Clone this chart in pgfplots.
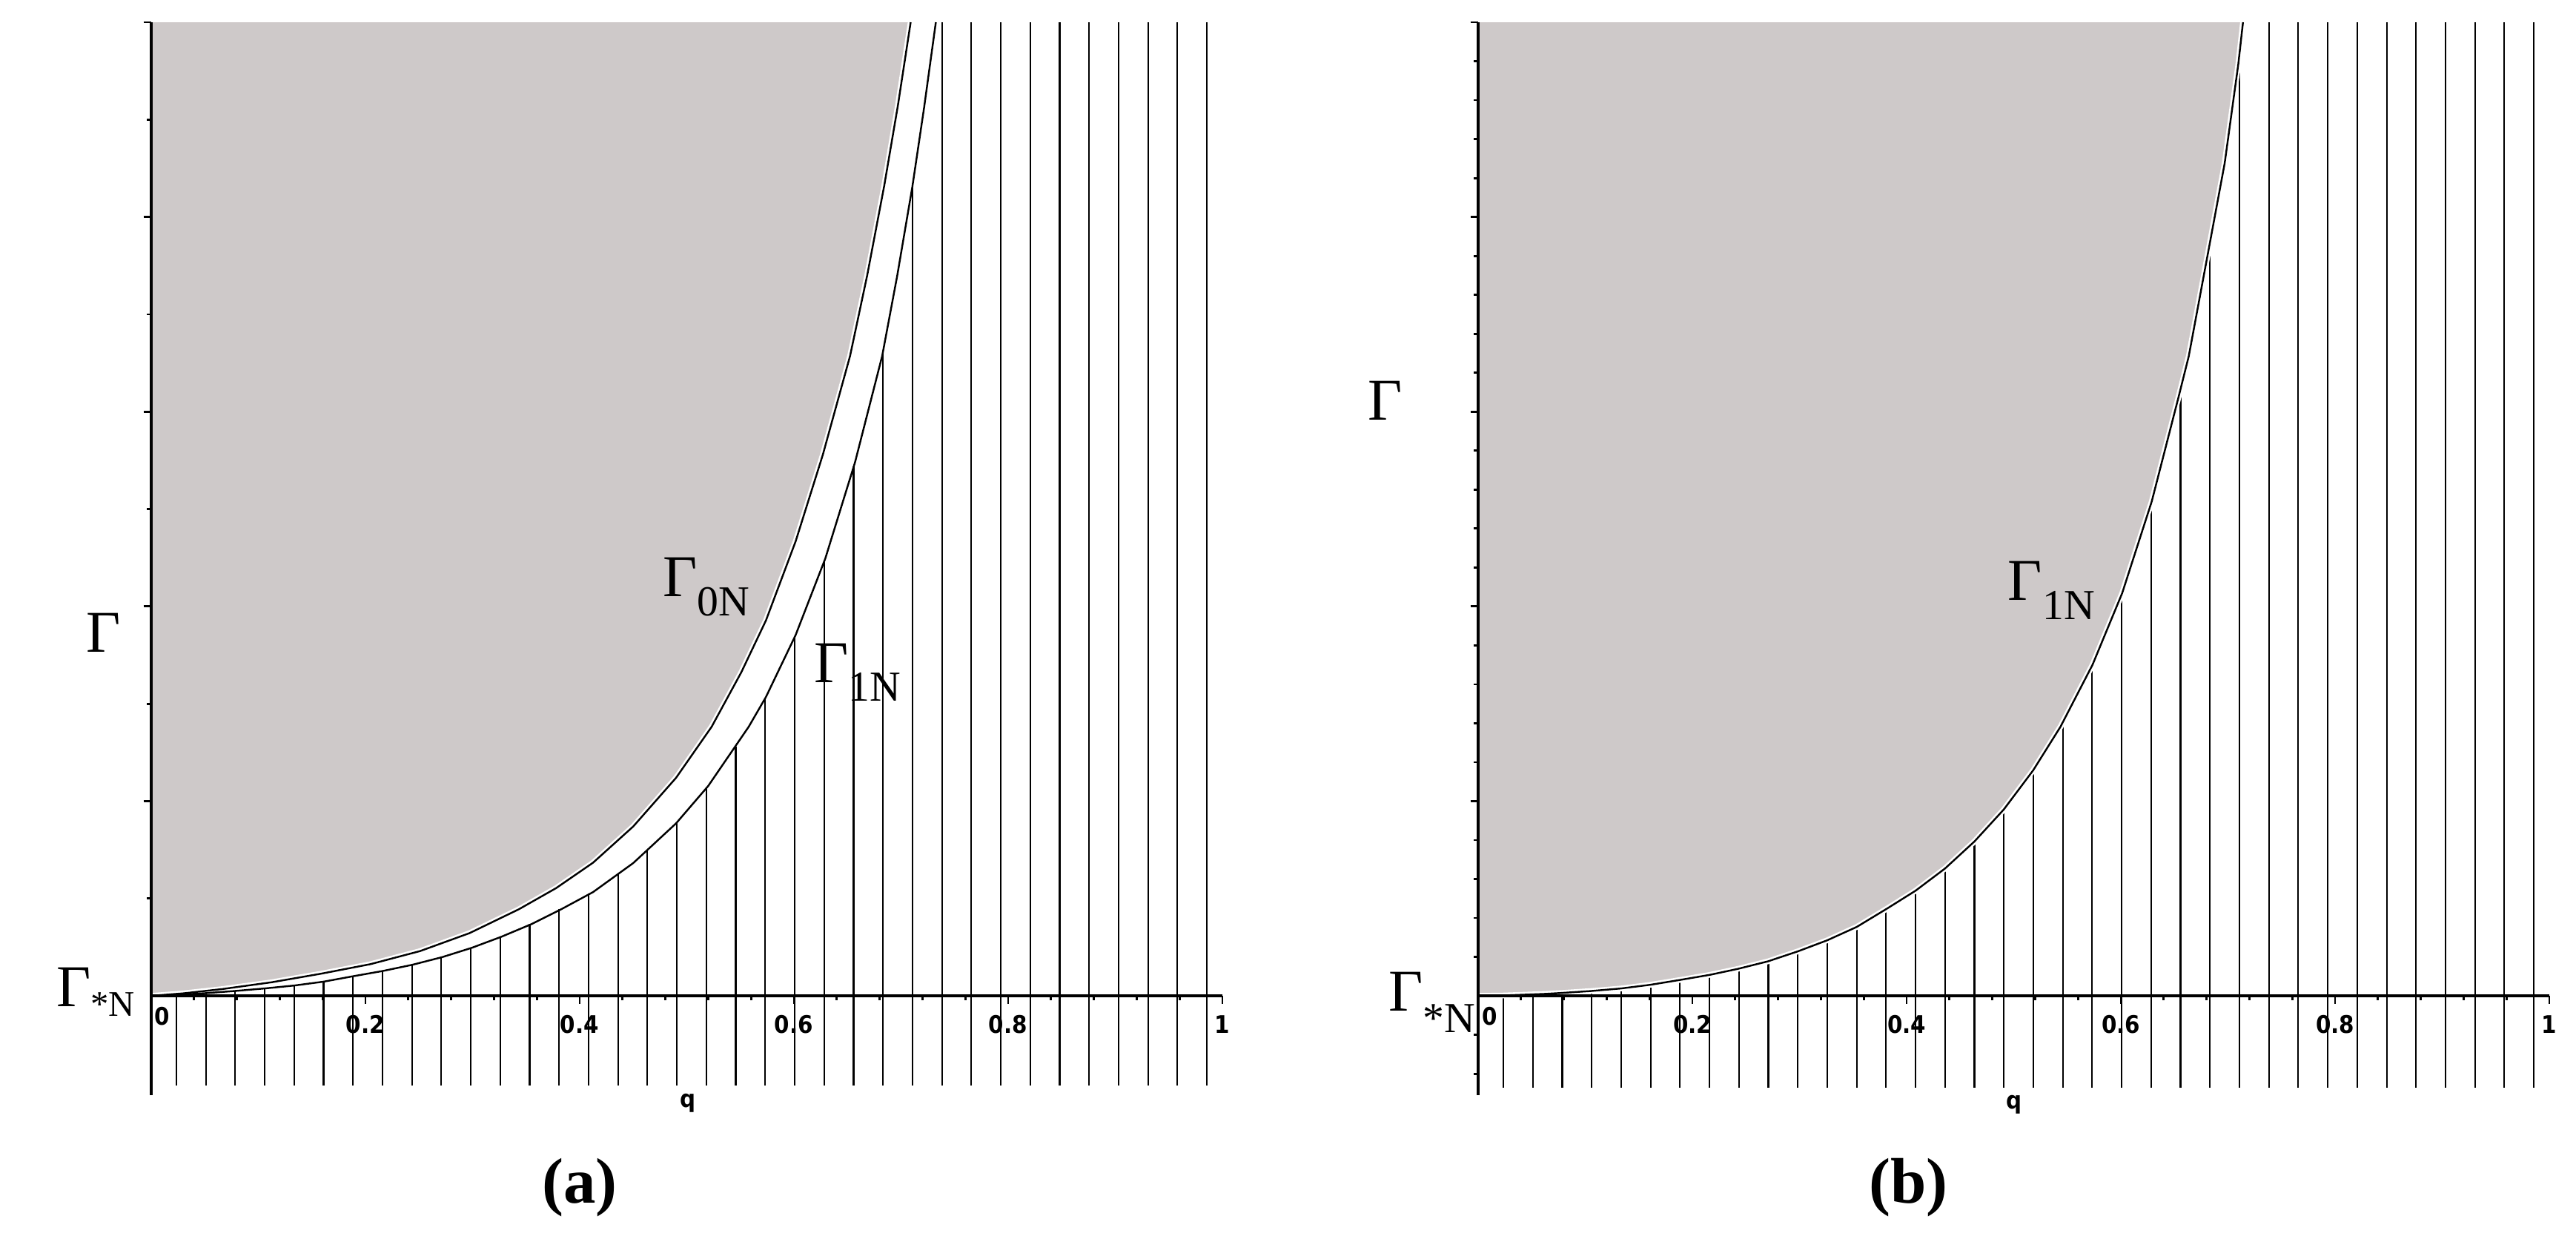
\documentclass[border=0pt]{standalone}
\usepackage{pgfplots}
\usepackage{pgfplotstable}
\pgfplotsset{compat=1.18}
\usepackage{fontspec}
\newfontfamily\tnr{Liberation Serif}
\newfontfamily\tickfont{DejaVu Sans Condensed}
\definecolor{shade}{RGB}{206,201,201}

\pgfplotsset{
  maple/.style={
    scale only axis, width=207.91pt, height=208.2pt,
    xmin=0, xmax=1, ymin=-0.51, ymax=5, enlargelimits=false,
    axis lines=middle, axis on top, clip=false,
    axis line style={-, line width=0.55pt},
    every inner x axis line/.append style={-},
    every inner y axis line/.append style={-},
    tick align=outside, major tick length=1.5pt, minor tick length=0.8pt,
    tick style={black, line width=0.4pt},
    xtick={0.2,0.4,0.6,0.8,1}, xticklabels={0.2,0.4,0.6,0.8,1},
    minor xtick={0.04,0.08,0.12,0.16,0.24,0.28,0.32,0.36,0.44,0.48,0.52,0.56,0.64,0.68,0.72,0.76,0.84,0.88,0.92,0.96},
    xticklabel style={font=\tickfont\bfseries\fontsize{4.7}{5}\selectfont, inner sep=0pt, anchor=center, yshift=-4pt},
    ytick={1,2,3,4,5}, yticklabels={},
    hide obscured x ticks=false,
  },
  hatch/.style={black, line width=0.3pt, unbounded coords=jump},
  curve/.style={black, line width=0.35pt},
  halo/.style={white, line width=1.1pt},
}
\newcommand\tick[1]{{\tickfont\bfseries\fontsize{4.7}{5}\selectfont #1}}
\newcommand\G{\tnr\fontsize{11.5}{12}\selectfont}
\newcommand\sub[2]{\raisebox{-#1}{\fontsize{8.3}{9}\selectfont #2}}

% boundary curves
\pgfplotstableread{
q      g
0      0
0.03   0.013
0.0664 0.035
0.1126 0.070
0.1587 0.114
0.2048 0.163
0.2510 0.230
0.2971 0.322
0.3433 0.445
0.3779 0.553
0.4125 0.684
0.45   0.87
0.49   1.12
0.5232 1.382
0.5509 1.662
0.5739 1.928
0.6016 2.334
0.627  2.779
0.6524 3.286
0.6684 3.70
0.6843 4.16
0.697  4.57
0.709  5
}\gzeroa
\pgfplotstableread{
q      g
0      0
0.0235 0.005
0.051  0.014
0.0780 0.025
0.1057 0.038
0.1334 0.053
0.1610 0.073
0.1887 0.101
0.2164 0.128
0.2441 0.160
0.2717 0.199
0.2994 0.247
0.3271 0.304
0.3548 0.368
0.3825 0.444
0.4125 0.533
0.45   0.682
0.49   0.886
0.52   1.078
0.5578 1.382
0.5739 1.535
0.6016 1.853
0.6293 2.246
0.657  2.739
0.6824 3.286
0.6965 3.70
0.7106 4.156
0.7215 4.56
0.7325 5
}\gonea
\pgfplotstableread{
q      g
0      0
0.0235 0.002
0.0618 0.010
0.0779 0.015
0.1056 0.025
0.1333 0.038
0.1609 0.057
0.1886 0.082
0.2163 0.108
0.2427 0.139
0.2704 0.177
0.2981 0.228
0.3257 0.285
0.3534 0.354
0.3822 0.450
0.4083 0.54
0.4358 0.654
0.4633 0.793
0.4908 0.958
0.5182 1.159
0.5436 1.382
0.5735 1.700
0.6012 2.068
0.6288 2.539
0.6542 3.083
0.6634 3.286
0.6819 3.832
0.6969 4.276
0.7096 4.784
0.714  5
}\goneb

\begin{document}
\begin{tikzpicture}
\path[use as bounding box] (0,0) rectangle (500pt,-240.29pt);

% ---------------- (a)
\begin{axis}[maple, at={(29.35pt,-212.52pt)}, anchor=south west,
  minor ytick={0.5,1.5,2.5,3.5,4.5}]
\addplot [fill=shade, draw=none] coordinates {
  (0,5) (0,0) (0.03,0.013) (0.0664,0.035) (0.1126,0.070) (0.1587,0.114)
  (0.2048,0.163) (0.2510,0.230) (0.2971,0.322) (0.3433,0.445) (0.3779,0.553)
  (0.4125,0.684) (0.45,0.87) (0.49,1.12) (0.5232,1.382) (0.5509,1.662)
  (0.5739,1.928) (0.6016,2.334) (0.627,2.779) (0.6524,3.286) (0.6684,3.70)
  (0.6843,4.16) (0.697,4.57) (0.709,5)} -- cycle;
\addplot [hatch] coordinates {
  (0.0235,-0.46) (0.0235,0.005) (0.0235,nan)
  (0.0510,-0.46) (0.0510,0.014) (0.0510,nan)
  (0.0785,-0.46) (0.0785,0.025) (0.0785,nan)
  (0.1060,-0.46) (0.1060,0.038) (0.1060,nan)
  (0.1334,-0.46) (0.1334,0.053) (0.1334,nan)
  (0.1609,-0.46) (0.1609,0.073) (0.1609,nan)
  (0.1884,-0.46) (0.1884,0.101) (0.1884,nan)
  (0.2159,-0.46) (0.2159,0.128) (0.2159,nan)
  (0.2434,-0.46) (0.2434,0.160) (0.2434,nan)
  (0.2709,-0.46) (0.2709,0.199) (0.2709,nan)
  (0.2984,-0.46) (0.2984,0.247) (0.2984,nan)
  (0.3258,-0.46) (0.3258,0.304) (0.3258,nan)
  (0.3533,-0.46) (0.3533,0.368) (0.3533,nan)
  (0.3808,-0.46) (0.3808,0.444) (0.3808,nan)
  (0.4083,-0.46) (0.4083,0.525) (0.4083,nan)
  (0.4358,-0.46) (0.4358,0.626) (0.4358,nan)
  (0.4633,-0.46) (0.4633,0.75) (0.4633,nan)
  (0.4908,-0.46) (0.4908,0.89) (0.4908,nan)
  (0.5182,-0.46) (0.5182,1.07) (0.5182,nan)
  (0.5457,-0.46) (0.5457,1.28) (0.5457,nan)
  (0.5732,-0.46) (0.5732,1.53) (0.5732,nan)
  (0.6007,-0.46) (0.6007,1.84) (0.6007,nan)
  (0.6282,-0.46) (0.6282,2.23) (0.6282,nan)
  (0.6557,-0.46) (0.6557,2.72) (0.6557,nan)
  (0.6832,-0.46) (0.6832,3.30) (0.6832,nan)
  (0.7107,-0.46) (0.7107,4.16) (0.7107,nan)
  (0.7382,-0.46) (0.7382,5) (0.7382,nan)
  (0.7656,-0.46) (0.7656,5) (0.7656,nan)
  (0.7931,-0.46) (0.7931,5) (0.7931,nan)
  (0.8206,-0.46) (0.8206,5) (0.8206,nan)
  (0.8481,-0.46) (0.8481,5) (0.8481,nan)
  (0.8756,-0.46) (0.8756,5) (0.8756,nan)
  (0.9031,-0.46) (0.9031,5) (0.9031,nan)
  (0.9306,-0.46) (0.9306,5) (0.9306,nan)
  (0.9580,-0.46) (0.9580,5) (0.9580,nan)
  (0.9855,-0.46) (0.9855,5)};
\addplot [halo] table [x=q, y=g] {\gzeroa};
\addplot [curve] table [x=q, y=g] {\gzeroa};
\addplot [curve] table [x=q, y=g] {\gonea};
\node [inner sep=0pt, yshift=-4pt] at (axis cs:0.0105,0) {\tick{0}};
\node [inner sep=0pt] at (axis cs:0.501,-0.552) {\tick{q}};
\node [inner sep=0pt] at (axis cs:-0.0443,1.866) {\G Γ};
\node [inner sep=0pt, anchor=base west] at (axis cs:-0.0893,-0.053) {\G Γ\raisebox{-1.9pt}{\fontsize{7}{8}\selectfont *N}};
\node [inner sep=0pt, anchor=base west] at (axis cs:0.4768,2.049) {\G Γ\sub{3.6pt}{0N}};
\node [inner sep=0pt, anchor=base west] at (axis cs:0.6178,1.611) {\G Γ\sub{3.6pt}{1N}};
\node [inner sep=0pt] at (axis cs:0.400,-0.986) {\tnr\bfseries\fontsize{12.5}{14}\selectfont (a)};
\end{axis}

% ---------------- (b)
\begin{axis}[maple, at={(286.91pt,-212.52pt)}, anchor=south west,
  minor ytick={-0.4,-0.2,0.2,0.4,0.6,0.8,1.2,1.4,1.6,1.8,2.2,2.4,2.6,2.8,3.2,3.4,3.6,3.8,4.2,4.4,4.6,4.8}]
\addplot [fill=shade, draw=none] coordinates {
  (0,5) (0,0) (0.0235,0.002) (0.0618,0.010) (0.0779,0.015) (0.1056,0.025)
  (0.1333,0.038) (0.1609,0.057) (0.1886,0.082) (0.2163,0.108) (0.2427,0.139)
  (0.2704,0.177) (0.2981,0.228) (0.3257,0.285) (0.3534,0.354) (0.3822,0.450)
  (0.4083,0.54) (0.4358,0.654) (0.4633,0.793) (0.4908,0.958) (0.5182,1.159)
  (0.5436,1.382) (0.5735,1.700) (0.6012,2.068) (0.6288,2.539) (0.6542,3.083)
  (0.6634,3.286) (0.6819,3.832) (0.6969,4.276) (0.7096,4.784) (0.714,5)} -- cycle;
\addplot [hatch] coordinates {
  (0.0235,-0.47) (0.0235,0.002) (0.0235,nan)
  (0.0510,-0.47) (0.0510,0.007) (0.0510,nan)
  (0.0785,-0.47) (0.0785,0.015) (0.0785,nan)
  (0.1060,-0.47) (0.1060,0.025) (0.1060,nan)
  (0.1334,-0.47) (0.1334,0.038) (0.1334,nan)
  (0.1609,-0.47) (0.1609,0.057) (0.1609,nan)
  (0.1884,-0.47) (0.1884,0.082) (0.1884,nan)
  (0.2159,-0.47) (0.2159,0.108) (0.2159,nan)
  (0.2434,-0.47) (0.2434,0.140) (0.2434,nan)
  (0.2709,-0.47) (0.2709,0.178) (0.2709,nan)
  (0.2984,-0.47) (0.2984,0.229) (0.2984,nan)
  (0.3258,-0.47) (0.3258,0.285) (0.3258,nan)
  (0.3533,-0.47) (0.3533,0.354) (0.3533,nan)
  (0.3808,-0.47) (0.3808,0.445) (0.3808,nan)
  (0.4083,-0.47) (0.4083,0.54) (0.4083,nan)
  (0.4358,-0.47) (0.4358,0.654) (0.4358,nan)
  (0.4633,-0.47) (0.4633,0.793) (0.4633,nan)
  (0.4908,-0.47) (0.4908,0.958) (0.4908,nan)
  (0.5182,-0.47) (0.5182,1.159) (0.5182,nan)
  (0.5457,-0.47) (0.5457,1.40) (0.5457,nan)
  (0.5732,-0.47) (0.5732,1.69) (0.5732,nan)
  (0.6007,-0.47) (0.6007,2.06) (0.6007,nan)
  (0.6282,-0.47) (0.6282,2.53) (0.6282,nan)
  (0.6557,-0.47) (0.6557,3.12) (0.6557,nan)
  (0.6832,-0.47) (0.6832,3.83) (0.6832,nan)
  (0.7107,-0.47) (0.7107,4.80) (0.7107,nan)
  (0.7382,-0.47) (0.7382,5) (0.7382,nan)
  (0.7656,-0.47) (0.7656,5) (0.7656,nan)
  (0.7931,-0.47) (0.7931,5) (0.7931,nan)
  (0.8206,-0.47) (0.8206,5) (0.8206,nan)
  (0.8481,-0.47) (0.8481,5) (0.8481,nan)
  (0.8756,-0.47) (0.8756,5) (0.8756,nan)
  (0.9031,-0.47) (0.9031,5) (0.9031,nan)
  (0.9306,-0.47) (0.9306,5) (0.9306,nan)
  (0.9580,-0.47) (0.9580,5) (0.9580,nan)
  (0.9855,-0.47) (0.9855,5)};
\addplot [halo] table [x=q, y=g] {\goneb};
\addplot [curve] table [x=q, y=g] {\goneb};
\node [inner sep=0pt, yshift=-4pt] at (axis cs:0.0105,0) {\tick{0}};
\node [inner sep=0pt] at (axis cs:0.5,-0.56) {\tick{q}};
\node [inner sep=0pt] at (axis cs:-0.0871,3.058) {\G Γ};
\node [inner sep=0pt, anchor=base west] at (axis cs:-0.0844,-0.076) {\G Γ\sub{4.3pt}{*N}};
\node [inner sep=0pt, anchor=base west] at (axis cs:0.4938,2.030) {\G Γ\sub{3.6pt}{1N}};
\node [inner sep=0pt] at (axis cs:0.4018,-0.986) {\tnr\bfseries\fontsize{12.5}{14}\selectfont (b)};
\end{axis}
\end{tikzpicture}
\end{document}
